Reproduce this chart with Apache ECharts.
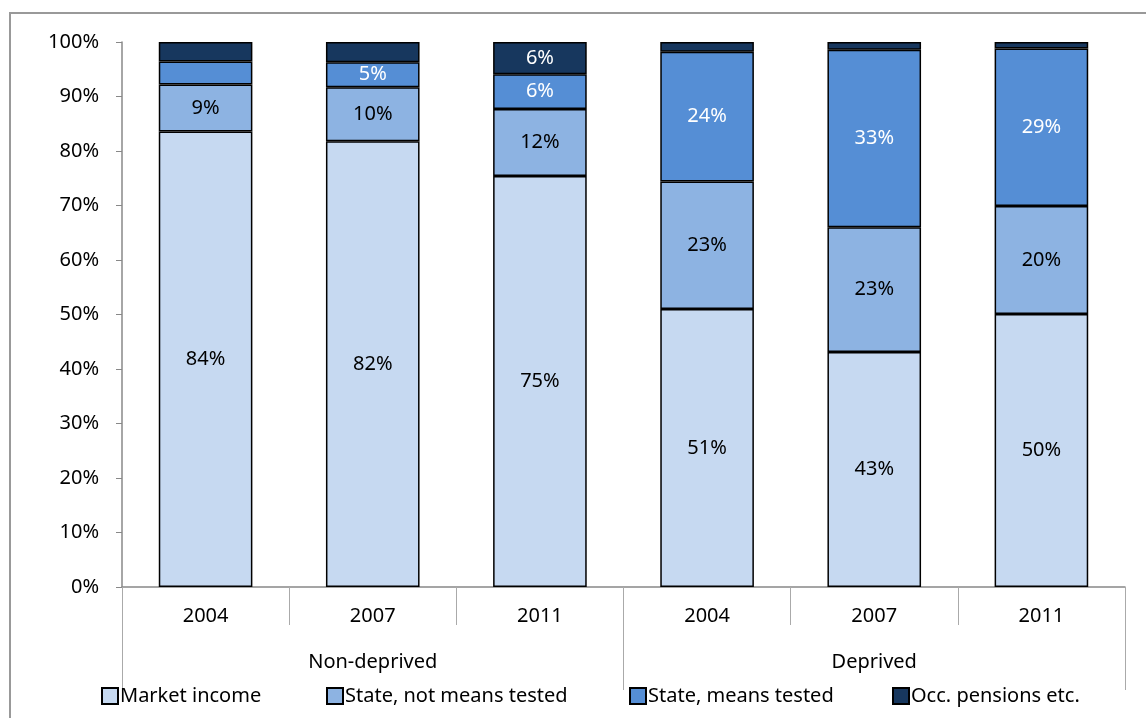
<!DOCTYPE html>
<html>
<head>
<meta charset="utf-8">
<script src="https://cdn.jsdelivr.net/npm/echarts@6/dist/echarts.min.js"></script>
<style>html,body{margin:0;padding:0;background:#fff}#c{width:1146px;height:718px}</style>
</head>
<body>
<div id="c"></div>
<script>
const years = ['2004', '2007', '2011', '2004', '2007', '2011'];
const groups = ['Non-deprived', 'Deprived'];
const seriesNames = ['Market income', 'State, not means tested', 'State, means tested', 'Occ. pensions etc.'];
const marketIncome = [83.6, 81.8, 75.4, 51.0, 43.1, 50.1];
const stateNotMeansTested = [8.6, 9.9, 12.3, 23.4, 22.9, 19.8];
const stateMeansTested = [4.2, 4.6, 6.4, 23.8, 32.6, 28.9];
const occPensions = [3.6, 3.7, 5.9, 1.8, 1.4, 1.2];
const yTicks = [0, 10, 20, 30, 40, 50, 60, 70, 80, 90, 100];

const colors = ['#C6D9F1', '#8DB3E2', '#558ED5', '#17375E'];
const labelColors = ['#000', '#000', '#fff', '#fff'];
const legendLeft = [96, 321, 624, 887];
const FONT = 'Noto Sans';
const values = [marketIncome, stateNotMeansTested, stateMeansTested, occPensions];

const chart = echarts.init(document.getElementById('c'));
chart.setOption({
  animation: false,
  textStyle: { fontFamily: FONT },
  graphic: [{
    type: 'rect', shape: { x: 10, y: 13, width: 1300, height: 900 },
    style: { fill: 'none', stroke: '#999', lineWidth: 2 }, silent: true
  }],
  grid: { left: 122, right: 21, top: 42, bottom: 131 },
  legend: seriesNames.map((n, i) => ({
    bottom: 7, left: legendLeft[i],
    itemWidth: 16, itemHeight: 16,
    icon: 'rect',
    textStyle: { fontSize: 20, color: '#000', fontFamily: FONT, padding: [0, 0, 0, -3] },
    data: [n]
  })),
  xAxis: [{
    type: 'category', data: years, position: 'bottom',
    axisLine: { lineStyle: { color: '#888', width: 1.5 } },
    axisTick: { show: true, length: 38, interval: 0, lineStyle: { color: '#aaa' } },
    axisLabel: { margin: 19, fontSize: 20, color: '#000', fontFamily: FONT, interval: 0 }
  }, {
    type: 'category', data: groups, position: 'bottom',
    axisLine: { show: false },
    axisTick: { show: true, length: 103, interval: 0, lineStyle: { color: '#aaa' } },
    axisLabel: { margin: 65, fontSize: 20, color: '#000', fontFamily: FONT, interval: 0 }
  }],
  yAxis: {
    type: 'value', min: yTicks[0], max: yTicks[yTicks.length - 1], interval: 10,
    splitLine: { show: false },
    axisLine: { show: true, lineStyle: { color: '#888', width: 1.5 } },
    axisTick: { show: true, length: 6, lineStyle: { color: '#888' } },
    axisLabel: { formatter: '{value}%', fontSize: 20, color: '#000', margin: 23, fontFamily: FONT }
  },
  series: seriesNames.map((name, i) => ({
    name, type: 'bar', stack: 'all', xAxisIndex: 0,
    barWidth: '56%',
    data: values[i],
    itemStyle: { color: colors[i], borderColor: '#000', borderWidth: 1.5 },
    label: {
      show: true, position: 'inside', fontSize: 20, color: labelColors[i], fontFamily: FONT,
      formatter: p => Math.round(p.value) >= 5 ? Math.round(p.value) + '%' : ''
    }
  }))
});
</script>
</body>
</html>
